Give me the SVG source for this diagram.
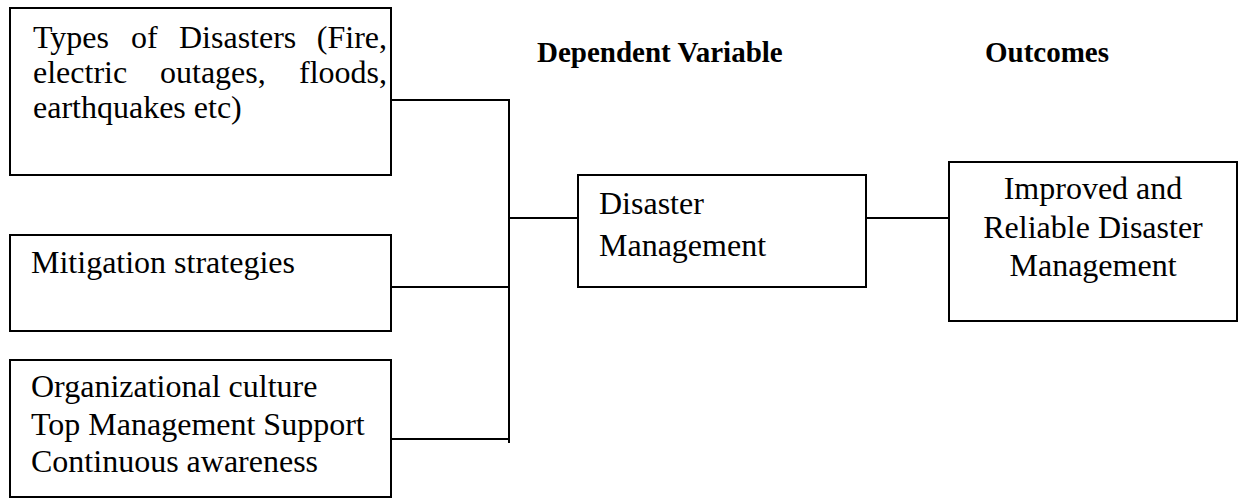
<svg xmlns="http://www.w3.org/2000/svg" width="1243" height="500" viewBox="0 0 1243 500">
<style>
.box{fill:#fff;stroke:#000;stroke-width:2}
text{font-family:"Liberation Serif","Times New Roman",serif;fill:#000}
.t{font-size:32px}
.h{font-size:29px;font-weight:bold}
.c{stroke:#000;stroke-width:2;fill:none}
</style>
<rect width="1243" height="500" fill="#fff"/>
<g id="connectors">
<path class="c" d="M391,100 H509 V443"/>
<path class="c" d="M391,287 H509"/>
<path class="c" d="M391,439 H509"/>
<path class="c" d="M509,218 H578"/>
<path class="c" d="M866,218 H949"/>
</g>
<g id="header-dependent"><text class="h" x="537" y="62">Dependent Variable</text></g>
<g id="header-outcomes"><text class="h" x="985" y="62">Outcomes</text></g>
<g id="types">
<rect class="box" x="10" y="8" width="381" height="167"/>
<text class="t" y="48"><tspan x="33">Types</tspan><tspan x="131">of</tspan><tspan x="179">Disasters</tspan><tspan x="387" text-anchor="end">(Fire,</tspan></text>
<text class="t" y="83"><tspan x="33">electric</tspan><tspan x="160">outages,</tspan><tspan x="387" text-anchor="end">floods,</tspan></text>
<text class="t" x="33" y="118">earthquakes etc)</text>
</g>
<g id="mitigation">
<rect class="box" x="10" y="235" width="381" height="96"/>
<text class="t" x="31" y="273">Mitigation strategies</text>
</g>
<g id="culture">
<rect class="box" x="10" y="360" width="381" height="137"/>
<text class="t" x="31" y="397">Organizational culture</text>
<text class="t" x="31" y="435">Top Management Support</text>
<text class="t" x="31" y="472">Continuous awareness</text>
</g>
<g id="disaster-management">
<rect class="box" x="578" y="175" width="288" height="112"/>
<text class="t" x="599" y="214">Disaster</text>
<text class="t" x="599" y="256">Management</text>
</g>
<g id="outcome">
<rect class="box" x="949" y="162" width="288" height="159"/>
<text class="t" x="1093" y="199" text-anchor="middle">Improved and</text>
<text class="t" x="1093" y="238" text-anchor="middle">Reliable Disaster</text>
<text class="t" x="1093" y="276" text-anchor="middle">Management</text>
</g>
</svg>
